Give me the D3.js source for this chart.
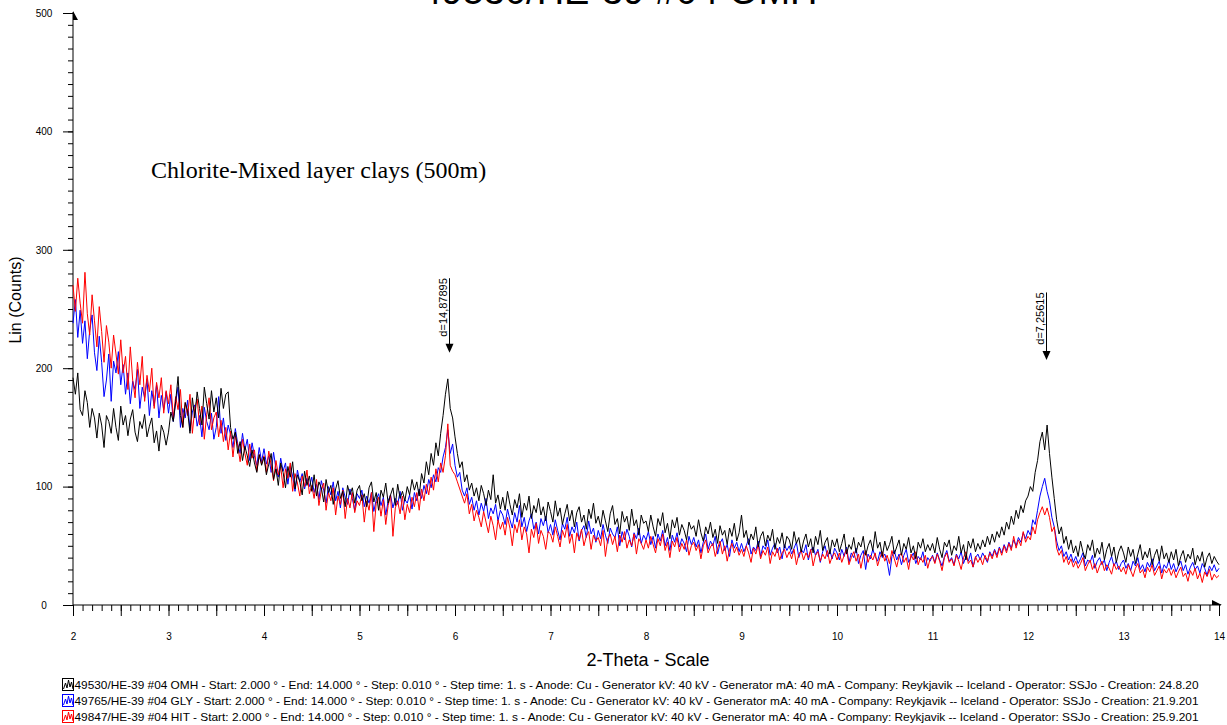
<!DOCTYPE html>
<html>
<head>
<meta charset="utf-8">
<script src="https://cdn.jsdelivr.net/npm/d3@7"></script>
<style>
  body { margin: 0; background: #fff; overflow: hidden; }
  text { font-family: Arial, "Liberation Sans", sans-serif; fill: #000; }
</style>
</head>
<body>
<svg id="chart"></svg>
<script>
// ---- data (2-Theta from 2 to 14, every 0.025 degree) ----
var xStart = 2;
var xStep = 0.025;

// 49530 OMH (black), one row = half a degree
var omh = [
  192,178,196,165,160,181,171,150,166,158,141,162,152,133,160,155,145,166,150,139,
  168,152,160,143,157,165,146,138,155,149,161,142,151,158,137,147,130,152,146,135,
  146,163,155,172,193,160,150,171,164,145,175,158,180,166,152,184,170,157,181,163,
  175,158,183,166,178,180,150,140,146,128,138,122,134,126,117,131,120,112,127,118,
  125,110,119,128,106,115,101,120,112,99,117,108,121,98,110,104,93,113,101,109,
  96,110,92,104,99,87,106,95,101,85,98,105,90,96,83,101,93,99,86,97,
  101,88,94,83,99,104,87,95,80,97,91,103,86,93,99,84,102,90,96,88,
  100,93,106,97,104,92,111,103,121,110,128,118,137,126,145,160,178,191,166,158,
  142,128,116,121,104,110,97,103,92,99,88,101,94,84,97,89,110,86,93,81,
  91,80,96,85,76,89,82,94,74,86,80,92,73,84,78,90,76,83,71,87,
  79,70,88,75,82,68,77,85,71,80,66,78,83,70,76,64,81,73,86,69,
  75,66,80,71,62,77,84,68,73,60,79,70,75,63,81,67,72,59,76,69,
  71,62,76,66,58,73,67,78,61,69,56,72,65,74,59,68,63,55,70,64,
  67,58,72,61,54,66,60,70,57,64,52,67,59,63,51,65,58,69,54,61,
  76,57,63,51,60,55,66,49,58,62,50,59,54,64,47,57,52,61,48,58,
  55,47,62,52,57,45,54,60,49,56,44,58,51,63,46,53,57,43,55,49,
  56,45,52,60,43,51,47,57,44,53,49,58,42,50,55,46,62,48,53,41,
  54,46,51,58,43,49,55,42,52,47,57,44,50,39,53,48,56,45,51,46,
  52,44,57,47,40,53,49,55,42,50,46,58,44,51,38,54,48,56,45,52,
  47,55,49,58,51,60,53,62,57,66,59,70,64,75,68,80,73,84,78,88,
  92,100,96,112,122,138,146,131,152,128,108,90,72,60,66,52,58,47,55,44,
  50,41,54,45,39,51,46,55,40,48,43,53,38,47,52,41,49,36,45,50,
  44,36,49,41,47,35,43,51,38,45,40,48,34,42,47,37,50,39,44,36,
  45,38,47,33,41,46,36,43,39,48,34,42,37,45,32,40,44,35,41,37,
  34
];

// 49765 GLY (blue)
var gly = [
  238,258,226,249,221,240,208,232,245,213,198,227,205,176,190,212,172,206,196,214,
  186,203,178,196,170,189,182,199,166,184,175,191,160,181,168,186,158,177,165,180,
  162,178,155,171,184,150,166,158,173,147,163,169,151,160,142,167,155,148,162,140,
  150,176,145,158,139,152,144,133,149,136,128,145,131,140,122,137,126,118,133,121,
  132,119,126,112,129,115,108,124,113,120,102,117,109,96,114,104,111,98,107,100,
  108,95,102,89,105,97,86,100,93,104,88,96,82,99,91,85,98,90,80,94,
  90,97,83,92,86,95,79,89,94,84,91,76,88,93,82,90,85,96,80,89,
  86,93,81,95,88,98,90,101,94,106,99,110,104,116,112,125,133,148,128,136,
  118,108,112,97,92,99,85,91,80,88,76,86,79,90,73,82,77,85,71,80,
  76,68,81,72,65,78,70,84,66,74,62,71,77,64,70,60,73,67,75,61,
  68,59,72,63,55,69,64,74,58,66,61,70,54,63,67,57,71,60,65,53,
  63,56,68,59,52,65,60,57,66,50,62,55,64,58,49,61,56,65,52,59,
  55,62,51,58,48,60,54,63,50,57,46,59,53,61,49,56,52,45,58,51,
  57,49,55,44,53,60,47,54,50,58,43,52,56,46,51,41,55,48,53,45,
  52,45,50,56,43,49,46,54,41,50,47,55,42,48,52,44,49,39,51,46,
  50,43,48,53,40,47,44,51,38,46,49,42,47,36,45,50,41,46,39,48,
  44,38,47,41,49,36,44,40,48,35,42,46,30,43,39,47,41,37,45,40,
  43,37,25,41,46,38,43,34,42,47,36,40,44,35,41,38,45,33,40,37,
  42,36,44,38,33,41,46,37,40,34,43,39,45,35,41,37,44,32,40,43,
  38,44,40,36,45,41,47,42,49,44,51,46,53,48,55,50,57,53,61,56,
  63,59,72,68,80,92,100,107,96,88,74,66,54,46,50,41,45,38,43,36,
  41,35,39,44,33,38,36,42,31,37,40,34,38,29,36,41,33,37,30,35,
  38,31,35,29,37,33,40,30,34,28,36,32,39,29,33,37,27,34,31,38,
  30,35,28,33,37,29,34,26,32,36,30,33,27,35,31,25,33,29,34,28,
  31
];

// 49847 HIT (red)
var hit = [
  270,248,276,255,238,281,246,228,262,240,218,252,231,205,236,222,200,228,212,195,
  224,196,210,182,218,190,175,205,186,210,172,194,180,200,166,188,175,192,162,181,
  170,186,158,176,165,182,150,171,160,178,145,166,174,152,168,140,161,175,148,158,
  163,142,156,138,150,131,147,125,143,135,121,140,128,118,136,124,131,113,127,119,
  126,112,130,118,105,122,110,117,99,115,107,120,96,111,103,92,109,100,114,94,
  101,90,106,84,97,103,80,95,88,99,76,92,85,97,73,90,82,95,78,88,
  84,93,70,88,80,95,62,86,91,75,89,68,84,93,58,82,88,77,92,72,
  85,78,91,83,95,80,98,88,102,93,108,97,115,104,120,112,126,153,118,113,
  110,104,98,92,86,94,77,85,71,80,74,66,79,70,61,75,67,55,72,64,
  70,59,74,65,50,68,61,72,55,66,60,44,64,57,69,52,63,58,47,62,
  60,53,66,58,49,63,57,68,52,60,44,61,55,64,50,58,62,47,59,54,
  57,50,63,41,56,60,51,58,45,59,53,62,48,55,50,60,43,56,52,47,
  55,48,58,51,44,56,50,60,46,53,40,54,49,57,45,52,47,55,42,50,
  53,46,51,39,50,55,44,49,52,41,48,54,43,50,37,47,52,44,49,42,
  47,41,50,44,36,48,43,51,39,46,42,49,35,45,41,48,38,44,47,40,
  45,39,47,34,43,46,38,44,40,47,33,42,45,37,43,39,46,35,41,44,
  38,44,36,42,47,34,40,45,37,43,31,41,46,36,42,38,44,33,40,45,
  37,42,35,46,39,32,41,44,36,40,30,43,38,45,34,40,36,42,31,39,
  41,35,43,37,29,40,44,36,39,33,42,37,30,40,45,35,38,32,41,36,
  40,34,42,37,44,39,46,40,48,42,50,44,52,46,58,48,55,50,62,53,
  58,55,66,60,72,78,83,76,82,74,62,66,48,42,46,36,41,34,39,32,
  37,31,35,40,29,34,38,30,35,27,33,37,29,34,31,26,35,30,33,28,
  32,26,34,29,24,31,35,27,30,23,32,28,34,25,29,33,22,30,27,31,
  25,30,23,28,32,24,27,20,29,25,31,22,27,19,28,24,30,21,26,23,
  25
];

var seriesNames = [
  "49530/HE-39 #04 OMH - Start: 2.000 ° - End: 14.000 ° - Step: 0.010 ° - Step time: 1. s - Anode: Cu - Generator kV: 40 kV - Generator mA: 40 mA - Company: Reykjavik -- Iceland - Operator: SSJo - Creation: 24.8.20",
  "49765/HE-39 #04 GLY - Start: 2.000 ° - End: 14.000 ° - Step: 0.010 ° - Step time: 1. s - Anode: Cu - Generator kV: 40 kV - Generator mA: 40 mA - Company: Reykjavik -- Iceland - Operator: SSJo - Creation: 21.9.201",
  "49847/HE-39 #04 HIT - Start: 2.000 ° - End: 14.000 ° - Step: 0.010 ° - Step time: 1. s - Anode: Cu - Generator kV: 40 kV - Generator mA: 40 mA - Company: Reykjavik -- Iceland - Operator: SSJo - Creation: 25.9.201"
];
var seriesColors = ["#000000", "#0000ff", "#ff0000"];

var xTicks = [2, 3, 4, 5, 6, 7, 8, 9, 10, 11, 12, 13, 14];
var yTicks = [0, 100, 200, 300, 400, 500];

// d-spacing markers (2-Theta, label, arrow top / tip in counts)
var peakAngles = [5.935, 12.188];
var peakLabels = ["d=14,87895", "d=7,25615"];
var peakTop = [276, 264];
var peakTip = [213, 207];

// ---- layout ----
var width = 1227, height = 725;

var svg = d3.select('#chart')
  .attr('width', width)
  .attr('height', height);

var x = d3.scaleLinear().domain([2, 14]).range([73, 1219]);
var y = d3.scaleLinear().domain([0, 500]).range([605, 13]);

// title, cut off by the top of the page like in the scan
svg.append('text')
  .attr('x', 619)
  .attr('y', 4)
  .attr('text-anchor', 'middle')
  .style('font-size', '38px')
  .text('49530/HE-39 #04 OMH');

// y axis: minor ticks every 10, major every 100
svg.append('g')
  .attr('transform', 'translate(73,0)')
  .call(d3.axisLeft(y).tickValues(d3.range(0, 501, 10)).tickSize(5).tickFormat(''))
  .call(function (g) { g.select('.domain').remove(); });

var yAxis = svg.append('g')
  .attr('transform', 'translate(73,0)')
  .call(d3.axisLeft(y).tickValues(yTicks).tickSize(10).tickFormat(d3.format('d')));
yAxis.select('.domain').remove();
yAxis.selectAll('text')
  .attr('x', -29)
  .attr('text-anchor', 'middle')
  .style('font-size', '10px');

// x axis: minor ticks every 0.1, longer every 0.5
svg.append('g')
  .attr('transform', 'translate(0,605)')
  .call(d3.axisBottom(x).tickValues(d3.range(20, 141, 1).map(function (d) { return d / 10; })).tickSize(6).tickFormat(''))
  .call(function (g) { g.select('.domain').remove(); });

svg.append('g')
  .attr('transform', 'translate(0,605)')
  .call(d3.axisBottom(x).tickValues(d3.range(4, 29, 1).map(function (d) { return d / 2; })).tickSize(11).tickFormat(''))
  .call(function (g) { g.select('.domain').remove(); });

var xAxis = svg.append('g')
  .attr('transform', 'translate(0,605)')
  .call(d3.axisBottom(x).tickValues(xTicks).tickSize(0).tickPadding(28).tickFormat(d3.format('d')));
xAxis.select('.domain').remove();
xAxis.selectAll('text').style('font-size', '10px');

// axis lines with arrow heads
svg.append('line')
  .attr('x1', 73).attr('x2', 73).attr('y1', 605).attr('y2', 12)
  .attr('stroke', '#000');
svg.append('line')
  .attr('x1', 73).attr('x2', 1221).attr('y1', 605).attr('y2', 605)
  .attr('stroke', '#000');
svg.append('path')
  .attr('d', 'M73,11 L78,20 L73,20 Z')
  .attr('fill', '#000');
svg.append('path')
  .attr('d', 'M1212,600 L1222,605 L1212,605 Z')
  .attr('fill', '#000');

// axis titles
svg.append('text')
  .attr('transform', 'translate(21,300) rotate(-90)')
  .attr('text-anchor', 'middle')
  .style('font-size', '16px')
  .text('Lin (Counts)');

svg.append('text')
  .attr('x', 648)
  .attr('y', 666)
  .attr('text-anchor', 'middle')
  .style('font-size', '18px')
  .text('2-Theta - Scale');

// the three patterns
var line = d3.line()
  .x(function (d, i) { return x(xStart + i * xStep); })
  .y(function (d) { return y(d); });

var drawOrder = [
  { values: gly, color: seriesColors[1] },
  { values: hit, color: seriesColors[2] },
  { values: omh, color: seriesColors[0] }
];

svg.selectAll('path.pattern')
  .data(drawOrder)
  .enter()
  .append('path')
  .attr('class', 'pattern')
  .attr('d', function (d) { return line(d.values); })
  .attr('fill', 'none')
  .attr('stroke', function (d) { return d.color; })
  .attr('stroke-width', 1)
  .attr('stroke-linejoin', 'miter');

// annotation text
svg.append('text')
  .attr('x', 151)
  .attr('y', 178)
  .style('font-family', '"Times New Roman", "Liberation Serif", serif')
  .style('font-size', '24px')
  .text('Chlorite-Mixed layer clays (500m)');

// d-spacing arrows
var marks = svg.selectAll('.dmark')
  .data(peakAngles)
  .enter()
  .append('g')
  .attr('class', 'dmark');

marks.append('line')
  .attr('x1', function (d) { return Math.round(x(d)) + 0.5; })
  .attr('x2', function (d) { return Math.round(x(d)) + 0.5; })
  .attr('y1', function (d, i) { return y(peakTop[i]); })
  .attr('y2', function (d, i) { return y(peakTip[i]) - 6; })
  .attr('stroke', '#000');

marks.append('path')
  .attr('d', function (d, i) {
    var cx = Math.round(x(d)) + 0.5, ty = y(peakTip[i]);
    return 'M' + (cx - 4) + ',' + (ty - 9) + ' L' + (cx + 4) + ',' + (ty - 9) + ' L' + cx + ',' + ty + ' Z';
  })
  .attr('fill', '#000');

marks.append('text')
  .attr('transform', function (d, i) {
    return 'translate(' + (Math.round(x(d)) - 2) + ',' + y(peakTop[i]) + ') rotate(-90)';
  })
  .attr('text-anchor', 'end')
  .style('font-size', '11px')
  .text(function (d, i) { return peakLabels[i]; });

// legend rows
var legend = svg.selectAll('.legend')
  .data(seriesNames)
  .enter()
  .append('g')
  .attr('class', 'legend')
  .attr('transform', function (d, i) { return 'translate(62,' + (678 + i * 16) + ')'; });

legend.append('rect')
  .attr('x', 0.5).attr('y', 0.5)
  .attr('width', 11).attr('height', 12)
  .attr('fill', 'none')
  .attr('stroke', function (d, i) { return seriesColors[i]; });

legend.append('path')
  .attr('d', 'M1.5,11 L3.5,5 L5,10 L6.5,2 L8,9 L9.5,4 L11,11')
  .attr('fill', 'none')
  .attr('stroke', function (d, i) { return seriesColors[i]; });

legend.append('text')
  .attr('x', 12.5)
  .attr('y', 10.5)
  .attr('textLength', 1124)
  .attr('lengthAdjust', 'spacingAndGlyphs')
  .style('font-size', '11px')
  .text(function (d) { return d; });
</script>
</body>
</html>
